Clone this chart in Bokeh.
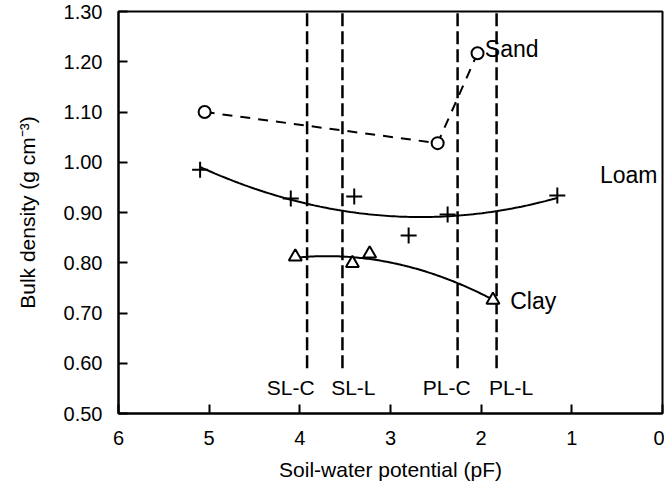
import numpy as np
from bokeh.plotting import figure
from bokeh.models import Range1d, FixedTicker, NumeralTickFormatter
from bokeh.core.properties import value
from bokeh.embed import file_html
from bokeh.resources import INLINE

# ---- data ----
sand_x = [5.05, 2.48, 2.04]
sand_y = [1.100, 1.038, 1.217]
loam_x = [5.10, 4.10, 3.40, 2.80, 2.37, 1.16]
loam_y = [0.985, 0.928, 0.932, 0.854, 0.896, 0.934]
clay_x = [4.05, 3.42, 3.23, 1.87]
clay_y = [0.812, 0.799, 0.818, 0.726]
limit_x = [3.92, 3.53, 2.26, 1.83]
limit_names = ["SL-C", "SL-L", "PL-C", "PL-L"]
limit_label_x = [4.10, 3.41, 2.38, 1.67]
series_names = ["Sand", "Loam", "Clay"]
series_label_x = [1.96, 0.69, 1.68]
series_label_y = [1.226, 0.975, 0.723]
x_ticks = [0, 1, 2, 3, 4, 5, 6]
y_ticks = [0.5, 0.6, 0.7, 0.8, 0.9, 1.0, 1.1, 1.2, 1.3]

FONT = "Liberation Sans"

p = figure(width=664, height=493, x_range=Range1d(6, 0), y_range=Range1d(0.5, 1.3),
           output_backend="svg", toolbar_location=None,
           min_border_left=118, min_border_right=2, min_border_top=11, min_border_bottom=80)
p.grid.visible = False
p.outline_line_color = "black"
p.outline_line_width = 2
p.outline_line_alpha = 1
p.background_fill_color = "white"
p.border_fill_color = "white"

for ax in (p.xaxis[0], p.yaxis[0]):
    ax.axis_line_width = 2
    ax.axis_line_color = "black"
    ax.major_tick_line_width = 2
    ax.major_tick_line_color = "black"
    ax.major_tick_in = 9
    ax.major_tick_out = 0
    ax.minor_tick_line_color = None
    ax.major_label_text_font = FONT
    ax.major_label_text_font_size = "20px"
    ax.major_label_text_color = "black"
    ax.axis_label_text_font = FONT
    ax.axis_label_text_font_size = "21px"
    ax.axis_label_text_font_style = "normal"
    ax.axis_label_text_color = "black"

p.xaxis.ticker = FixedTicker(ticks=x_ticks)
p.yaxis.ticker = FixedTicker(ticks=y_ticks)
p.yaxis.formatter = NumeralTickFormatter(format="0.00")
p.xaxis.major_label_standoff = 17
p.yaxis.major_label_standoff = 16
p.yaxis.axis_label = "Bulk density (g cm\u207b\u00b3)"
p.yaxis.axis_label_standoff = 22
p.xaxis.axis_label = "Soil-water potential (pF)"
p.xaxis.axis_label_standoff = 10

# vertical limit lines
p.segment(x0=limit_x, y0=0.59, x1=limit_x, y1=1.30, line_color="black",
          line_width=2.5, line_dash="13 5")
p.text(x=limit_label_x, y=[0.552] * 4, text=limit_names, text_font=value(FONT),
       text_font_size="21px", text_align="center", text_baseline="middle", text_color="black")

# fitted curves
lc = np.polyfit(loam_x, loam_y, 2)
lxs = np.linspace(min(loam_x), max(loam_x), 120)
p.line(lxs, np.polyval(lc, lxs), line_color="black", line_width=2)
cc = np.polyfit(clay_x, clay_y, 2)
cxs = np.linspace(min(clay_x), max(clay_x), 120)
p.line(cxs, np.polyval(cc, cxs), line_color="black", line_width=2)

# sand dashed
p.line(sand_x, sand_y, line_color="black", line_width=2, line_dash="10 8")

p.scatter(sand_x, sand_y, marker="circle", size=12, line_color="black", line_width=2, fill_color="white")
p.scatter(loam_x, loam_y, marker="cross", size=16, line_color="black", line_width=2)
p.scatter(clay_x, clay_y, marker="triangle", size=13, line_color="black", line_width=2, fill_color="white")

p.text(x=series_label_x, y=series_label_y, text=series_names, text_font=value(FONT),
       text_font_size="23px", text_align="left", text_baseline="middle", text_color="black")

open("out.html", "w").write(file_html(p, INLINE))
